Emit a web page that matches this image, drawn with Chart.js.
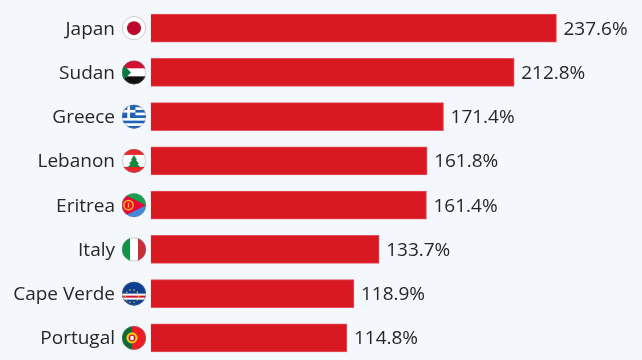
<!DOCTYPE html>
<html lang="en">

<head>
    <meta charset="UTF-8">
    <script src="https://cdn.jsdelivr.net/npm/chart.js"></script>
    <title>Chart</title>
    <style>
        html, body { margin: 0; padding: 0; background: #f4f8fc; overflow: hidden; }
        canvas { display: block; }
    </style>
</head>

<body>
    <canvas id="barras" width="642" height="360"></canvas>
<script>

    const paises = ['Japan', 'Sudan', 'Greece', 'Lebanon', 'Eritrea', 'Italy', 'Cape Verde', 'Portugal'];
    const valores = [237.6, 212.8, 171.4, 161.8, 161.4, 133.7, 118.9, 114.8];

    const fonte = '"Open Sans"';
    const corTexto = '#262626';

    // flags are drawn in a 24x24 box, origin at the top left, clipped to a circle
    function faixas(c, cores) {
        let h = 24 / cores.length;
        cores.forEach(function (cor, i) {
            c.fillStyle = cor;
            c.fillRect(0, i * h, 24, h + 0.5);
        });
    }

    function poligono(c, cor, pts) {
        c.fillStyle = cor;
        c.beginPath();
        pts.forEach(function (p, i) {
            if (i == 0) c.moveTo(p[0], p[1]); else c.lineTo(p[0], p[1]);
        });
        c.closePath();
        c.fill();
    }

    function bola(c, cor, x, y, r) {
        c.fillStyle = cor;
        c.beginPath();
        c.arc(x, y, r, 0, Math.PI * 2);
        c.fill();
    }

    const bandeiras = {
        'Japan': function (c) {
            faixas(c, ['#ffffff']);
            bola(c, '#bc0a2f', 12, 12, 7);
        },
        'Sudan': function (c) {
            faixas(c, ['#d21034', '#ffffff', '#111111']);
            poligono(c, '#0a7a3c', [[0, 3], [9, 12], [0, 21]]);
        },
        'Greece': function (c) {
            faixas(c, ['#1c63b7', '#fff', '#1c63b7', '#fff', '#1c63b7', '#fff', '#1c63b7', '#fff', '#1c63b7']);
            c.fillStyle = '#1c63b7';
            c.fillRect(0, 0, 13.4, 13.4);
            c.fillStyle = '#fff';
            c.fillRect(5.3, 0, 2.7, 13.4);
            c.fillRect(0, 5.3, 13.4, 2.7);
        },
        'Lebanon': function (c) {
            faixas(c, ['#e8262a', '#ffffff', '#ffffff', '#e8262a']);
            poligono(c, '#10893e', [[12, 6], [15, 11], [14, 11], [17, 15], [15.5, 15], [18, 18], [6, 18], [8.5, 15], [7, 15], [10, 11], [9, 11]]);
        },
        'Eritrea': function (c) {
            faixas(c, ['#12a24b', '#4189dd']);
            poligono(c, '#ea0437', [[0, 0], [24, 12], [0, 24]]);
            c.strokeStyle = '#f7b718';
            c.lineWidth = 1.6;
            c.beginPath();
            c.arc(6.5, 12, 4.6, 0, Math.PI * 2);
            c.stroke();
            c.fillStyle = '#f7b718';
            c.fillRect(5.8, 9.5, 1.4, 5);
        },
        'Italy': function (c) {
            c.fillStyle = '#0f9345'; c.fillRect(0, 0, 8, 24);
            c.fillStyle = '#ffffff'; c.fillRect(8, 0, 8, 24);
            c.fillStyle = '#cf2b37'; c.fillRect(16, 0, 8, 24);
        },
        'Cape Verde': function (c) {
            faixas(c, ['#0c3f93']);
            c.fillStyle = '#ffffff'; c.fillRect(0, 12, 24, 6);
            c.fillStyle = '#d21034'; c.fillRect(0, 14, 24, 2);
            for (let i = 0; i < 10; i++) {
                let a = i * Math.PI / 5;
                bola(c, '#f7d116', 10 + 6.5 * Math.cos(a), 14.5 + 6.5 * Math.sin(a), 0.8);
            }
        },
        'Portugal': function (c) {
            c.fillStyle = '#0b6a37'; c.fillRect(0, 0, 10, 24);
            c.fillStyle = '#ee1c25'; c.fillRect(10, 0, 14, 24);
            bola(c, '#f7d116', 10, 12, 5.6);
            bola(c, '#d21034', 10, 12, 3.4);
            c.fillStyle = '#ffffff';
            c.fillRect(8.4, 10, 3.2, 4.2);
        }
    };

    // flag next to each country name
    const pluginBandeiras = {
        id: 'bandeiras',
        afterDraw: function (chart) {
            let c = chart.ctx;
            let y = chart.scales.y;
            paises.forEach(function (nome, i) {
                let cy = y.getPixelForValue(i);
                let cx = 134;
                c.save();
                c.beginPath();
                c.arc(cx, cy, 12, 0, Math.PI * 2);
                c.clip();
                c.translate(cx - 12, cy - 12);
                bandeiras[nome](c);
                c.restore();
                c.beginPath();
                c.arc(cx, cy, 11.6, 0, Math.PI * 2);
                c.strokeStyle = 'rgba(120,130,140,0.5)';
                c.lineWidth = 0.8;
                c.stroke();
            });
        }
    };

    // percentage at the end of each bar
    const pluginRotulos = {
        id: 'rotulos',
        afterDatasetsDraw: function (chart) {
            let c = chart.ctx;
            c.save();
            c.font = '19px ' + fonte;
            c.fillStyle = corTexto;
            c.textAlign = 'left';
            c.textBaseline = 'middle';
            chart.getDatasetMeta(0).data.forEach(function (barra, i) {
                c.fillText(valores[i].toFixed(1) + '%', barra.x + 7, barra.y + 1);
            });
            c.restore();
        }
    };

    Chart.defaults.animation = false;

    new Chart(document.getElementById('barras'), {
        type: 'bar',
        data: {
            labels: paises,
            datasets: [{
                data: valores,
                backgroundColor: '#d81921',
                borderColor: '#e2525c',
                borderWidth: 1,
                barThickness: 28
            }]
        },
        options: {
            indexAxis: 'y',
            responsive: false,
            layout: { padding: { top: 6, right: 0, bottom: 0, left: 0 } },
            plugins: { legend: { display: false }, title: { display: false }, tooltip: { enabled: false } },
            scales: {
                x: { display: false, min: 0, max: 287.7 },
                y: {
                    // tick padding would otherwise also push the plot down from top and bottom
                    afterFit: function (eixo) {
                        eixo.width = 151;
                        eixo.paddingTop = 0;
                        eixo.paddingBottom = 0;
                    },
                    grid: { display: false, drawTicks: false },
                    border: { display: false },
                    ticks: {
                        padding: 36,
                        labelOffset: 1,
                        color: corTexto,
                        font: { family: fonte, size: 19 }
                    }
                }
            }
        },
        plugins: [pluginRotulos, pluginBandeiras]
    });

</script>
</body>

</html>
